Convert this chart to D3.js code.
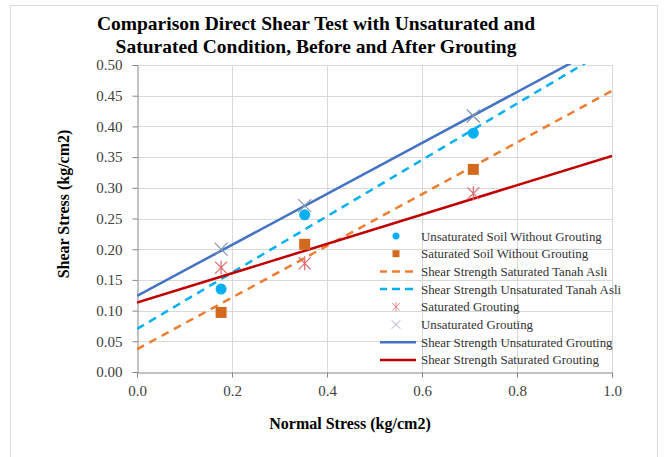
<!DOCTYPE html>
<html>
<head>
<meta charset="utf-8">
<script src="https://cdn.jsdelivr.net/npm/d3@7"></script>
<style>
  body { margin: 0; background: #fff; }
  text { font-family: "Liberation Serif", "Times New Roman", serif; }
</style>
</head>
<body>
<svg id="chart" width="668" height="457"></svg>
<script>
// normal stress of the three test loads
const normalStress = [0.177, 0.353, 0.708];
const unsatSoil = [0.135, 0.256, 0.389];
const satSoil = [0.097, 0.208, 0.330];
const satGrout = [0.170, 0.177, 0.291];
const unsatGrout = [0.200, 0.271, 0.417];

// strength envelopes, read at normal stress 0 and 1
const lineX = [0, 1];
const satAsliLine = [0.037, 0.458];
const unsatAsliLine = [0.070, 0.529];
const unsatGroutLine = [0.124, 0.539];
const satGroutLine = [0.113, 0.352];

const xTicks = [0, 0.2, 0.4, 0.6, 0.8, 1.0];
const yTicks = [0, 0.05, 0.1, 0.15, 0.2, 0.25, 0.3, 0.35, 0.4, 0.45, 0.5];

const svg = d3.select('#chart');
const plotLeft = 137, plotRight = 612, plotTop = 65, plotBottom = 372;

let x = d3.scaleLinear().domain([0, 1]).range([plotLeft, plotRight]);
let y = d3.scaleLinear().domain([0, 0.5]).range([plotBottom, plotTop]);

// chart border
svg.append('rect')
  .attr('x', 10.5).attr('y', 5.5)
  .attr('width', 647).attr('height', 470)
  .attr('fill', 'none').attr('stroke', '#d9d9d9');

// title
const title = svg.append('text')
  .attr('text-anchor', 'middle')
  .attr('font-size', 19.5)
  .attr('font-weight', 'bold')
  .attr('fill', '#000');
title.append('tspan').attr('x', 316).attr('y', 30).text('Comparison Direct Shear Test with Unsaturated and');
title.append('tspan').attr('x', 316).attr('y', 53).text('Saturated Condition, Before and After Grouting');

// grid
let grid = svg.append('g').attr('class', 'grid');
grid.selectAll('.gx').data(xTicks.slice(1)).enter().append('line')
  .attr('x1', d => Math.round(x(d)) + 0.5).attr('x2', d => Math.round(x(d)) + 0.5)
  .attr('y1', plotTop).attr('y2', plotBottom)
  .attr('stroke', '#d9d9d9');
grid.selectAll('.gy').data(yTicks.slice(1)).enter().append('line')
  .attr('x1', plotLeft).attr('x2', plotRight)
  .attr('y1', d => Math.round(y(d)) + 0.5).attr('y2', d => Math.round(y(d)) + 0.5)
  .attr('stroke', '#d9d9d9');

// axes
let xAxis = svg.append('g')
  .attr('transform', `translate(0,${plotBottom + 0.5})`)
  .call(d3.axisBottom(x).tickValues(xTicks).tickFormat(d3.format('.1f')).tickSizeOuter(0).tickSize(5).tickPadding(8));
let yAxis = svg.append('g')
  .attr('transform', `translate(${plotLeft + 0.5},0)`)
  .call(d3.axisLeft(y).tickValues(yTicks).tickFormat(d3.format('.2f')).tickSizeOuter(0).tickSize(5).tickPadding(10));
[xAxis, yAxis].forEach(a => {
  a.attr('font-family', null);
  a.select('.domain').attr('stroke', '#868686');
  a.selectAll('.tick line').attr('stroke', '#868686');
  a.selectAll('.tick text')
    .style('font-family', '"Liberation Serif", serif')
    .style('font-size', '15px')
    .attr('fill', '#404040');
});

// axis titles
svg.append('text')
  .attr('x', 350).attr('y', 429)
  .attr('text-anchor', 'middle')
  .attr('font-size', 16).attr('font-weight', 'bold')
  .text('Normal Stress (kg/cm2)');
svg.append('text')
  .attr('transform', 'translate(69,204) rotate(-90)')
  .attr('text-anchor', 'middle')
  .attr('font-size', 16).attr('font-weight', 'bold')
  .text('Shear Stress (kg/cm2)');

// clip for trend lines
svg.append('clipPath').attr('id', 'plot-clip')
  .append('rect').attr('x', plotLeft).attr('y', plotTop - 1)
  .attr('width', plotRight - plotLeft).attr('height', plotBottom - plotTop + 1);

const lineGen = d3.line().x(d => x(d[0])).y(d => y(d[1]));
const lines = [
  { name: 'Shear Strength Saturated Tanah Asli', vals: satAsliLine, color: '#ed7d31', dash: '8,6' },
  { name: 'Shear Strength Unsaturated Tanah Asli', vals: unsatAsliLine, color: '#00b0f0', dash: '8,6' },
  { name: 'Shear Strength Unsaturated Grouting', vals: unsatGroutLine, color: '#4472c4', dash: null },
  { name: 'Shear Strength Saturated Grouting', vals: satGroutLine, color: '#c00000', dash: null }
];
let lineLayer = svg.append('g').attr('clip-path', 'url(#plot-clip)');
lines.forEach(l => {
  lineLayer.append('path')
    .datum(lineX.map((v, i) => [v, l.vals[i]]))
    .attr('d', lineGen)
    .attr('fill', 'none')
    .attr('stroke', l.color)
    .attr('stroke-width', 2.5)
    .attr('stroke-dasharray', l.dash);
});

// marker drawing
const drawMarker = (g, type, cx, cy) => {
  if (type === 'circle') {
    g.append('circle').attr('cx', cx).attr('cy', cy).attr('r', 5.5).attr('fill', '#00b0f0');
  } else if (type === 'square') {
    g.append('rect').attr('x', cx - 5.5).attr('y', cy - 5.5).attr('width', 11).attr('height', 11).attr('fill', '#d2691e');
  } else if (type === 'star') {
    let s = 6;
    g.append('path')
      .attr('d', `M${cx - s},${cy - s}L${cx + s},${cy + s}M${cx - s},${cy + s}L${cx + s},${cy - s}M${cx},${cy - s - 1}L${cx},${cy + s + 1}`)
      .attr('stroke', '#e06a6a').attr('stroke-width', 1.2).attr('fill', 'none');
  } else if (type === 'cross') {
    let s = 6.5;
    g.append('path')
      .attr('d', `M${cx - s},${cy - s}L${cx + s},${cy + s}M${cx - s},${cy + s}L${cx + s},${cy - s}`)
      .attr('stroke', '#8497b0').attr('stroke-width', 1.2).attr('fill', 'none');
  }
};

const pointSeries = [
  { name: 'Unsaturated Soil Without Grouting', vals: unsatSoil, type: 'circle' },
  { name: 'Saturated Soil Without Grouting', vals: satSoil, type: 'square' },
  { name: 'Saturated Grouting', vals: satGrout, type: 'star' },
  { name: 'Unsaturated Grouting', vals: unsatGrout, type: 'cross' }
];
let pointLayer = svg.append('g');
pointSeries.forEach(s => {
  s.vals.forEach((v, i) => drawMarker(pointLayer, s.type, x(normalStress[i]), y(v)));
});

// legend
const legendItems = [
  { name: pointSeries[0].name, type: 'circle' },
  { name: pointSeries[1].name, type: 'square' },
  { name: lines[0].name, line: lines[0] },
  { name: lines[1].name, line: lines[1] },
  { name: pointSeries[2].name, type: 'star' },
  { name: pointSeries[3].name, type: 'cross' },
  { name: lines[2].name, line: lines[2] },
  { name: lines[3].name, line: lines[3] }
];
let legend = svg.append('g');
legendItems.forEach((d, i) => {
  let ly = 236 + i * 17.7;
  if (d.line) {
    legend.append('line')
      .attr('x1', 380).attr('x2', 416).attr('y1', ly).attr('y2', ly)
      .attr('stroke', d.line.color).attr('stroke-width', 2.5)
      .attr('stroke-dasharray', d.line.dash ? '8,5' : null)
      .attr('stroke-dashoffset', d.line.dash ? 1 : 0);
  } else if (d.type === 'circle') {
    legend.append('circle').attr('cx', 396).attr('cy', ly).attr('r', 3.5).attr('fill', '#00b0f0');
  } else if (d.type === 'square') {
    legend.append('rect').attr('x', 392.5).attr('y', ly - 3.5).attr('width', 7).attr('height', 7).attr('fill', '#d2691e');
  } else {
    let g = legend.append('g').attr('transform', `translate(396,${ly}) scale(0.65) translate(-396,${-ly})`);
    drawMarker(g, d.type, 396, ly);
  }
  legend.append('text')
    .attr('x', 421).attr('y', ly + 4.5)
    .attr('font-size', 12.9)
    .attr('fill', '#333')
    .text(d.name);
});
</script>
</body>
</html>
